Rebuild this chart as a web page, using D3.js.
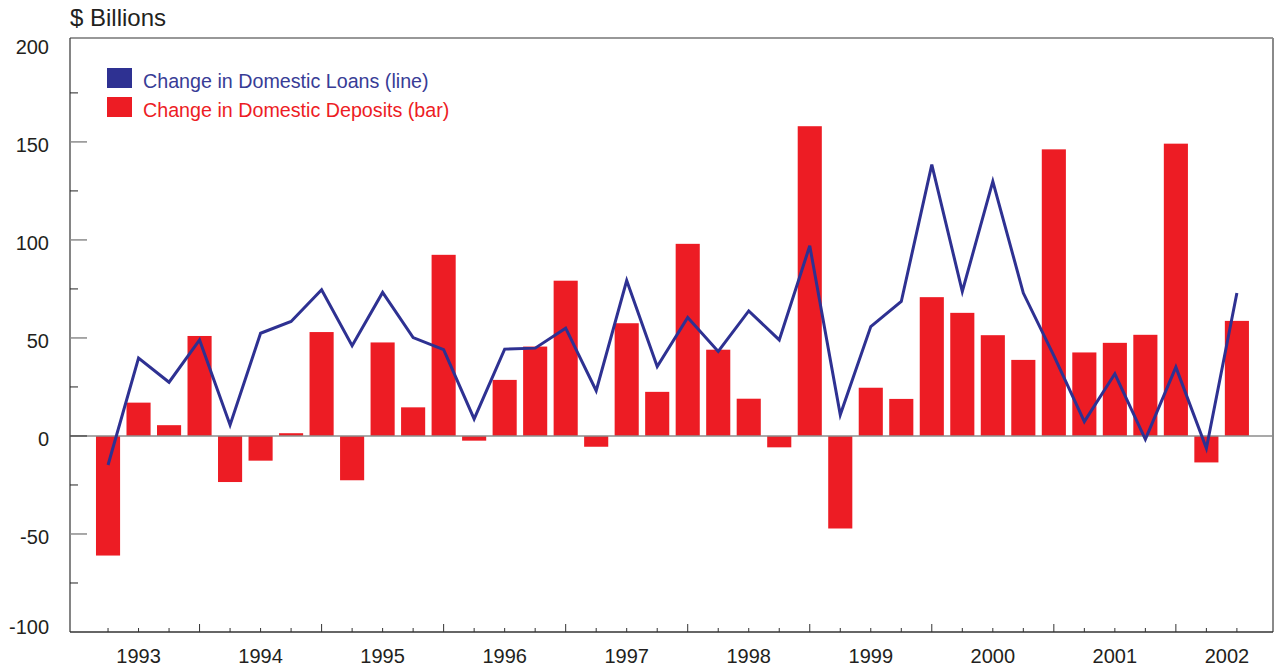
<!DOCTYPE html>
<html>
<head>
<meta charset="utf-8">
<script src="https://cdn.jsdelivr.net/npm/d3@7"></script>
<style>
  body { margin: 0; background: #fff; }
  svg { display: block; font-family: "Liberation Sans", Arial, Helvetica, sans-serif; }
</style>
</head>
<body>
<svg id="chart" width="1275" height="666"></svg>
<script>
// Quarterly changes, $ billions
const quarters = [
  "1993Q1","1993Q2","1993Q3","1993Q4",
  "1994Q1","1994Q2","1994Q3","1994Q4",
  "1995Q1","1995Q2","1995Q3","1995Q4",
  "1996Q1","1996Q2","1996Q3","1996Q4",
  "1997Q1","1997Q2","1997Q3","1997Q4",
  "1998Q1","1998Q2","1998Q3","1998Q4",
  "1999Q1","1999Q2","1999Q3","1999Q4",
  "2000Q1","2000Q2","2000Q3","2000Q4",
  "2001Q1","2001Q2","2001Q3","2001Q4",
  "2002Q1","2002Q2"
];

// Change in domestic deposits (bars)
const deposits = [
  -61, 17, 5.5, 51,
  -23.5, -12.6, 1.4, 53,
  -22.6, 47.7, 14.6, 92.4,
  -2.4, 28.6, 45.6, 79.2,
  -5.5, 57.5, 22.5, 98,
  44, 19, -5.8, 158,
  -47.2, 24.6, 18.9, 70.8,
  62.8, 51.4, 38.8, 146.2,
  42.6, 47.5, 51.6, 149.1,
  -13.5, 58.7
];

// Change in domestic loans (line)
const loans = [
  -14.8, 39.7, 27.4, 49,
  5.6, 52.4, 58.4, 74.6,
  46, 73.2, 50.2, 44,
  8.7, 44.3, 44.8, 55,
  23.1, 79.3, 35.4, 60.4,
  43.1, 63.8, 49, 97,
  10.8, 55.8, 68.6, 138.4,
  73.7, 129.9, 72.9, 41,
  7.3, 31.7, -1.7, 35.1,
  -6.3, 72.9
];

const yTickValues = [-100, -50, 0, 50, 100, 150, 200];
const yMinorValues = [-75, -25, 25, 75, 125, 175];
const yearLabels = ["1993","1994","1995","1996","1997","1998","1999","2000","2001","2002"];

const loanColor = "#2E3192";
const depositColor = "#ED1C24";

const svg = d3.select("#chart");
const plotLeft = 70, plotRight = 1273, plotTop = 38, plotBottom = 632;

const x = d3.scalePoint()
  .domain(quarters)
  .range([plotLeft, plotRight])
  .padding(1.215)
  .align(0.513);

const y = d3.scaleLinear()
  .domain([-100, 203])
  .range([plotBottom, plotTop]);

const barW = x.step() * 0.79;

// Bars
svg.append("g")
  .selectAll("rect")
  .data(quarters.map((q, i) => ({ q, v: deposits[i] })))
  .join("rect")
  .attr("x", d => x(d.q) - barW / 2)
  .attr("y", d => y(Math.max(0, d.v)))
  .attr("width", barW)
  .attr("height", d => Math.abs(y(d.v) - y(0)))
  .attr("fill", depositColor);

// Zero reference line
svg.append("line")
  .attr("x1", plotLeft).attr("x2", plotRight)
  .attr("y1", y(0)).attr("y2", y(0))
  .attr("stroke", "#8c8c8c")
  .attr("stroke-width", 1.5);

// Frame: top border and right border
svg.append("line")
  .attr("x1", plotLeft).attr("x2", plotRight)
  .attr("y1", plotTop).attr("y2", plotTop)
  .attr("stroke", "#333").attr("stroke-width", 1.2);
svg.append("line")
  .attr("x1", plotRight).attr("x2", plotRight)
  .attr("y1", plotTop).attr("y2", plotBottom)
  .attr("stroke", "#8a8a8a").attr("stroke-width", 2);

// Left axis
svg.append("line")
  .attr("x1", plotLeft).attr("x2", plotLeft)
  .attr("y1", plotTop).attr("y2", plotBottom)
  .attr("stroke", "#333").attr("stroke-width", 1.2);

// Major y ticks (long, gray)
svg.append("g")
  .selectAll("line")
  .data(yTickValues.filter(v => v > -100 && v < 200))
  .join("line")
  .attr("x1", plotLeft).attr("x2", plotLeft + 17)
  .attr("y1", d => y(d)).attr("y2", d => y(d))
  .attr("stroke", d => d === 0 ? "#555" : "#8c8c8c")
  .attr("stroke-width", 1.5);

// Minor y ticks (short, dark)
svg.append("g")
  .selectAll("line")
  .data(yMinorValues)
  .join("line")
  .attr("x1", plotLeft).attr("x2", plotLeft + 8)
  .attr("y1", d => y(d)).attr("y2", d => y(d))
  .attr("stroke", "#222")
  .attr("stroke-width", 1);

// Y tick labels (the bottom one is lifted clear of the axis line)
svg.append("g")
  .selectAll("text")
  .data(yTickValues)
  .join("text")
  .attr("x", 49)
  .attr("y", d => Math.min(y(d) + 3.5, plotBottom - 5) + 7)
  .attr("text-anchor", "end")
  .attr("font-size", 20)
  .attr("fill", "#231f20")
  .text(d => d);

// Bottom axis line
svg.append("line")
  .attr("x1", plotLeft).attr("x2", plotRight)
  .attr("y1", y(-100)).attr("y2", y(-100))
  .attr("stroke", "#333").attr("stroke-width", 1.5);

// X ticks: one per quarter, taller at year end
svg.append("g")
  .selectAll("line")
  .data(quarters)
  .join("line")
  .attr("x1", d => x(d)).attr("x2", d => x(d))
  .attr("y1", y(-100))
  .attr("y2", d => y(-100) - (d.endsWith("Q4") ? 8 : 4))
  .attr("stroke", "#333")
  .attr("stroke-width", 1);

// Year labels, placed at the second quarter of each year
svg.append("g")
  .selectAll("text")
  .data(yearLabels)
  .join("text")
  .attr("x", d => x(d + "Q2"))
  .attr("dx", (d, i, arr) => i === arr.length - 1 ? -10 : 0)
  .attr("y", 663)
  .attr("text-anchor", "middle")
  .attr("font-size", 20)
  .attr("fill", "#231f20")
  .text(d => d);

// Loans line
const line = d3.line()
  .x((d, i) => x(quarters[i]))
  .y(d => y(d));
svg.append("path")
  .datum(loans)
  .attr("d", line)
  .attr("fill", "none")
  .attr("stroke", loanColor)
  .attr("stroke-width", 3)
  .attr("stroke-linejoin", "miter");

// Unit title
svg.append("text")
  .attr("x", plotLeft)
  .attr("y", 26)
  .attr("font-size", 24)
  .attr("fill", "#231f20")
  .text("$ Billions");

// Legend
const legend = [
  { label: "Change in Domestic Loans (line)", color: loanColor, text: "#383c96" },
  { label: "Change in Domestic Deposits (bar)", color: depositColor, text: depositColor }
];
const lg = svg.append("g").attr("transform", "translate(107,68)");
const items = lg.selectAll("g").data(legend).join("g")
  .attr("transform", (d, i) => `translate(0,${i * 29})`);
items.append("rect")
  .attr("width", 25).attr("height", 20)
  .attr("fill", d => d.color);
items.append("text")
  .attr("x", 36).attr("y", 20)
  .attr("font-size", 19.7)
  .attr("fill", d => d.text)
  .text(d => d.label);
</script>
</body>
</html>
